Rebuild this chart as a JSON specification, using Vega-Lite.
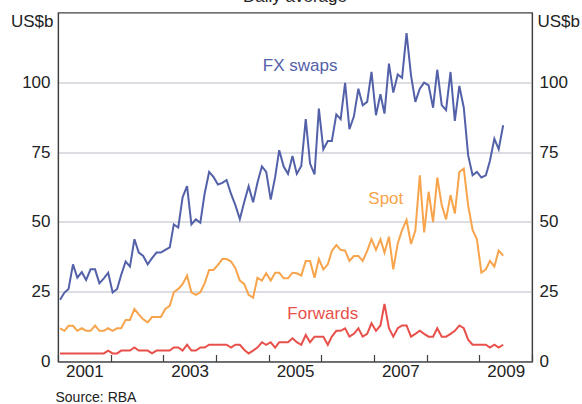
{
  "$schema": "https://vega.github.io/schema/vega-lite/v6.json",
  "width": 474,
  "height": 349,
  "autosize": {"type": "none"},
  "padding": {"left": 58, "top": 12.5, "right": 50, "bottom": 42.5},
  "background": "white",
  "config": {"view": {"stroke": "#404040", "strokeWidth": 1.2}, "font": "Liberation Sans"},
  "layer": [
    {
      "data": {"values": [
        {"d":"2001-01-15","fx":22.1,"spot":11.9,"fwd":2.9},
        {"d":"2001-02-15","fx":24.7,"spot":11,"fwd":2.9},
        {"d":"2001-03-15","fx":26,"spot":12.8,"fwd":2.9},
        {"d":"2001-04-15","fx":34.8,"spot":12.8,"fwd":2.9},
        {"d":"2001-05-15","fx":30,"spot":11,"fwd":2.9},
        {"d":"2001-06-15","fx":32,"spot":11.9,"fwd":2.9},
        {"d":"2001-07-15","fx":29.2,"spot":11,"fwd":2.9},
        {"d":"2001-08-15","fx":33,"spot":11,"fwd":2.9},
        {"d":"2001-09-15","fx":33,"spot":12.9,"fwd":2.9},
        {"d":"2001-10-15","fx":28,"spot":11,"fwd":2.9},
        {"d":"2001-11-15","fx":29.8,"spot":11,"fwd":2.9},
        {"d":"2001-12-15","fx":31.8,"spot":11.9,"fwd":3.9},
        {"d":"2002-01-15","fx":24.7,"spot":11,"fwd":2.9},
        {"d":"2002-02-15","fx":26,"spot":11.9,"fwd":2.9},
        {"d":"2002-03-15","fx":31,"spot":11.9,"fwd":3.9},
        {"d":"2002-04-15","fx":35.8,"spot":14.9,"fwd":3.9},
        {"d":"2002-05-15","fx":34,"spot":14.9,"fwd":3.9},
        {"d":"2002-06-15","fx":43.8,"spot":18.8,"fwd":5},
        {"d":"2002-07-15","fx":39,"spot":16.9,"fwd":3.9},
        {"d":"2002-08-15","fx":37.8,"spot":15.1,"fwd":3.9},
        {"d":"2002-09-15","fx":34.8,"spot":14,"fwd":3.9},
        {"d":"2002-10-15","fx":37,"spot":15.9,"fwd":2.9},
        {"d":"2002-11-15","fx":39,"spot":15.9,"fwd":3.9},
        {"d":"2002-12-15","fx":39,"spot":15.9,"fwd":3.9},
        {"d":"2003-01-15","fx":40,"spot":18.8,"fwd":3.9},
        {"d":"2003-02-15","fx":40.9,"spot":19.9,"fwd":3.9},
        {"d":"2003-03-15","fx":49.1,"spot":24.8,"fwd":5},
        {"d":"2003-04-15","fx":48,"spot":26,"fwd":5},
        {"d":"2003-05-15","fx":58.8,"spot":27.7,"fwd":3.9},
        {"d":"2003-06-15","fx":62.8,"spot":30.8,"fwd":6},
        {"d":"2003-07-15","fx":49.1,"spot":24.8,"fwd":3.9},
        {"d":"2003-08-15","fx":50.9,"spot":23.9,"fwd":3.9},
        {"d":"2003-09-15","fx":49.7,"spot":24.8,"fwd":5},
        {"d":"2003-10-15","fx":60.2,"spot":28,"fwd":5},
        {"d":"2003-11-15","fx":67.9,"spot":32.8,"fwd":6},
        {"d":"2003-12-15","fx":66.1,"spot":32.8,"fwd":6},
        {"d":"2004-01-15","fx":63.4,"spot":34.6,"fwd":6},
        {"d":"2004-02-15","fx":64,"spot":36.7,"fwd":6},
        {"d":"2004-03-15","fx":65,"spot":36.7,"fwd":6},
        {"d":"2004-04-15","fx":60,"spot":35.8,"fwd":5},
        {"d":"2004-05-15","fx":56,"spot":33.4,"fwd":6},
        {"d":"2004-06-15","fx":51,"spot":29,"fwd":6},
        {"d":"2004-07-15","fx":57,"spot":27.8,"fwd":4.2},
        {"d":"2004-08-15","fx":62.8,"spot":23.9,"fwd":2.9},
        {"d":"2004-09-15","fx":57,"spot":22.9,"fwd":3.9},
        {"d":"2004-10-15","fx":64,"spot":30,"fwd":5},
        {"d":"2004-11-15","fx":69.9,"spot":29,"fwd":6.9},
        {"d":"2004-12-15","fx":67.9,"spot":31.6,"fwd":6},
        {"d":"2005-01-15","fx":58,"spot":29,"fwd":6.9},
        {"d":"2005-02-15","fx":66.1,"spot":31.8,"fwd":5},
        {"d":"2005-03-15","fx":75.7,"spot":31.8,"fwd":6.9},
        {"d":"2005-04-15","fx":69.8,"spot":29.8,"fwd":6.9},
        {"d":"2005-05-15","fx":67.2,"spot":29.8,"fwd":6.9},
        {"d":"2005-06-15","fx":73.6,"spot":31.8,"fwd":8.3},
        {"d":"2005-07-15","fx":67.2,"spot":31.6,"fwd":6.9},
        {"d":"2005-08-15","fx":70,"spot":30.8,"fwd":6},
        {"d":"2005-09-15","fx":86.8,"spot":36,"fwd":9.5},
        {"d":"2005-10-15","fx":70.9,"spot":36,"fwd":6.9},
        {"d":"2005-11-15","fx":67,"spot":30,"fwd":8.9},
        {"d":"2005-12-15","fx":90.6,"spot":36.7,"fwd":8.9},
        {"d":"2006-01-15","fx":76,"spot":33,"fwd":8.9},
        {"d":"2006-02-15","fx":79,"spot":34.8,"fwd":6},
        {"d":"2006-03-15","fx":79,"spot":39.6,"fwd":8.9},
        {"d":"2006-04-15","fx":88.5,"spot":41.7,"fwd":11},
        {"d":"2006-05-15","fx":86.8,"spot":40,"fwd":11},
        {"d":"2006-06-15","fx":99.8,"spot":39.7,"fwd":11.9},
        {"d":"2006-07-15","fx":83.2,"spot":36,"fwd":8.9},
        {"d":"2006-08-15","fx":87.8,"spot":37.8,"fwd":9.9},
        {"d":"2006-09-15","fx":97.7,"spot":37.8,"fwd":11.9},
        {"d":"2006-10-15","fx":91.8,"spot":36,"fwd":8.9},
        {"d":"2006-11-15","fx":93,"spot":39.6,"fwd":9.9},
        {"d":"2006-12-15","fx":103.7,"spot":43.8,"fwd":13.7},
        {"d":"2007-01-15","fx":88.2,"spot":40,"fwd":11},
        {"d":"2007-02-15","fx":95.7,"spot":43.8,"fwd":12.9},
        {"d":"2007-03-15","fx":88.8,"spot":39,"fwd":20.6},
        {"d":"2007-04-15","fx":106.7,"spot":44.7,"fwd":11.9},
        {"d":"2007-05-15","fx":96.3,"spot":33,"fwd":8.9},
        {"d":"2007-06-15","fx":102.8,"spot":42.3,"fwd":11.9},
        {"d":"2007-07-15","fx":101.6,"spot":47.1,"fwd":12.9},
        {"d":"2007-08-15","fx":117.6,"spot":50.7,"fwd":12.9},
        {"d":"2007-09-15","fx":102.5,"spot":42.1,"fwd":8.9},
        {"d":"2007-10-15","fx":93,"spot":46.9,"fwd":9.9},
        {"d":"2007-11-15","fx":97.7,"spot":66.7,"fwd":11},
        {"d":"2007-12-15","fx":99.9,"spot":46.2,"fwd":9.9},
        {"d":"2008-01-15","fx":98.9,"spot":60.8,"fwd":8.9},
        {"d":"2008-02-15","fx":90.9,"spot":49.9,"fwd":8.9},
        {"d":"2008-03-15","fx":104.5,"spot":65.9,"fwd":11.9},
        {"d":"2008-04-15","fx":91.8,"spot":56,"fwd":8.9},
        {"d":"2008-05-15","fx":90,"spot":50.9,"fwd":8.9},
        {"d":"2008-06-15","fx":103.7,"spot":59.6,"fwd":9.9},
        {"d":"2008-07-15","fx":86.2,"spot":53,"fwd":11},
        {"d":"2008-08-15","fx":98.7,"spot":67.9,"fwd":12.9},
        {"d":"2008-09-15","fx":90.9,"spot":69.1,"fwd":11.9},
        {"d":"2008-10-15","fx":73.9,"spot":56,"fwd":7.8},
        {"d":"2008-11-15","fx":66.7,"spot":47.1,"fwd":6},
        {"d":"2008-12-15","fx":67.9,"spot":43.8,"fwd":6},
        {"d":"2009-01-15","fx":65.9,"spot":31.8,"fwd":6},
        {"d":"2009-02-15","fx":66.7,"spot":33,"fwd":6},
        {"d":"2009-03-15","fx":71.8,"spot":36,"fwd":5},
        {"d":"2009-04-15","fx":79.8,"spot":34,"fwd":6},
        {"d":"2009-05-15","fx":76,"spot":39.7,"fwd":5},
        {"d":"2009-06-15","fx":84.6,"spot":37.9,"fwd":6}
      ]},
      "transform": [{"fold": ["fx", "spot", "fwd"], "as": ["series", "value"]}],
      "mark": {"type": "line", "strokeWidth": 2, "strokeJoin": "miter"},
      "encoding": {
        "x": {
          "field": "d", "type": "temporal",
          "scale": {"type": "utc", "domain": ["2001-01-01", "2010-01-01"]},
          "axis": {
            "orient": "bottom",
            "tickCount": {"interval": "year", "step": 1},
            "labelExpr": "utcyear(datum.value) % 2 == 1 ? utcFormat(datum.value, '%Y') : ''",
            "labelOffset": 26.35,
            "labelFlush": false,
            "labelOverlap": false,
            "labelBound": false,
            "labelPadding": 9,
            "labelFontSize": 17,
            "labelFont": "Liberation Sans",
            "labelColor": "#222222",
            "tickSize": -7,
            "tickColor": "#404040",
            "tickWidth": 1.2,
            "grid": false,
            "domainColor": "#404040",
            "domainWidth": 1.2,
            "title": "Source: RBA",
            "titleAnchor": "start",
            "titleAlign": "left",
            "titleBaseline": "alphabetic",
            "titleX": -3,
            "titleY": 40,
            "titleFontSize": 14,
            "titleFontWeight": "normal",
            "titleFont": "Liberation Sans",
            "titleColor": "#222222"
          }
        },
        "y": {
          "field": "value", "type": "quantitative",
          "scale": {"domain": [0, 125], "nice": false, "zero": true},
          "axis": {
            "orient": "left",
            "values": [0, 25, 50, 75, 100],
            "grid": true,
            "gridColor": "#b8bcc6",
            "gridWidth": 1,
            "ticks": false,
            "tickSize": 0,
            "domainColor": "#404040",
            "domainWidth": 1.2,
            "labelFontSize": 17,
            "labelFont": "Liberation Sans",
            "labelColor": "#222222",
            "labelPadding": 8,
            "title": "US$b",
            "titleAngle": 0,
            "titleAlign": "right",
            "titleAnchor": "end",
            "titleBaseline": "alphabetic",
            "titleX": -5,
            "titleY": 14,
            "titleFontSize": 17,
            "titleFontWeight": "normal",
            "titleFont": "Liberation Sans",
            "titleColor": "#222222"
          }
        },
        "color": {
          "field": "series", "type": "nominal",
          "scale": {"domain": ["fx", "spot", "fwd"], "range": ["#5361a9", "#f7a44c", "#e8504b"]},
          "legend": null
        }
      }
    },
    {
      "data": {"values": [
        {"series": "fx", "label": "FX swaps", "d": "2005-08-07", "value": 103.9},
        {"series": "spot", "label": "Spot", "d": "2007-03-24", "value": 56.4},
        {"series": "fwd", "label": "Forwards", "d": "2006-01-11", "value": 15.1}
      ]},
      "mark": {"type": "text", "fontSize": 17, "font": "Liberation Sans", "align": "center", "baseline": "alphabetic"},
      "encoding": {
        "x": {"field": "d", "type": "temporal"},
        "y": {
          "field": "value", "type": "quantitative",
          "axis": {
            "orient": "right",
            "values": [0, 25, 50, 75, 100],
            "grid": false,
            "ticks": false,
            "tickSize": 0,
            "domainColor": "#404040",
            "domainWidth": 1.2,
            "labelFontSize": 17,
            "labelFont": "Liberation Sans",
            "labelColor": "#222222",
            "labelPadding": 7,
            "title": "US$b",
            "titleAngle": 0,
            "titleAlign": "left",
            "titleAnchor": "end",
            "titleBaseline": "alphabetic",
            "titleX": 5,
            "titleY": 14,
            "titleFontSize": 17,
            "titleFontWeight": "normal",
            "titleFont": "Liberation Sans",
            "titleColor": "#222222"
          }
        },
        "text": {"field": "label"},
        "color": {"field": "series", "type": "nominal", "legend": null}
      }
    },
    {
      "data": {"values": [
        {"label": "Daily average", "d": "2005-07-02", "value": 128.6}
      ]},
      "mark": {"type": "text", "fontSize": 17, "font": "Liberation Sans", "align": "center", "baseline": "alphabetic", "color": "#222222", "clip": false},
      "encoding": {
        "x": {"field": "d", "type": "temporal"},
        "y": {"field": "value", "type": "quantitative", "axis": null},
        "text": {"field": "label"}
      }
    }
  ],
  "resolve": {"axis": {"y": "independent"}}
}
